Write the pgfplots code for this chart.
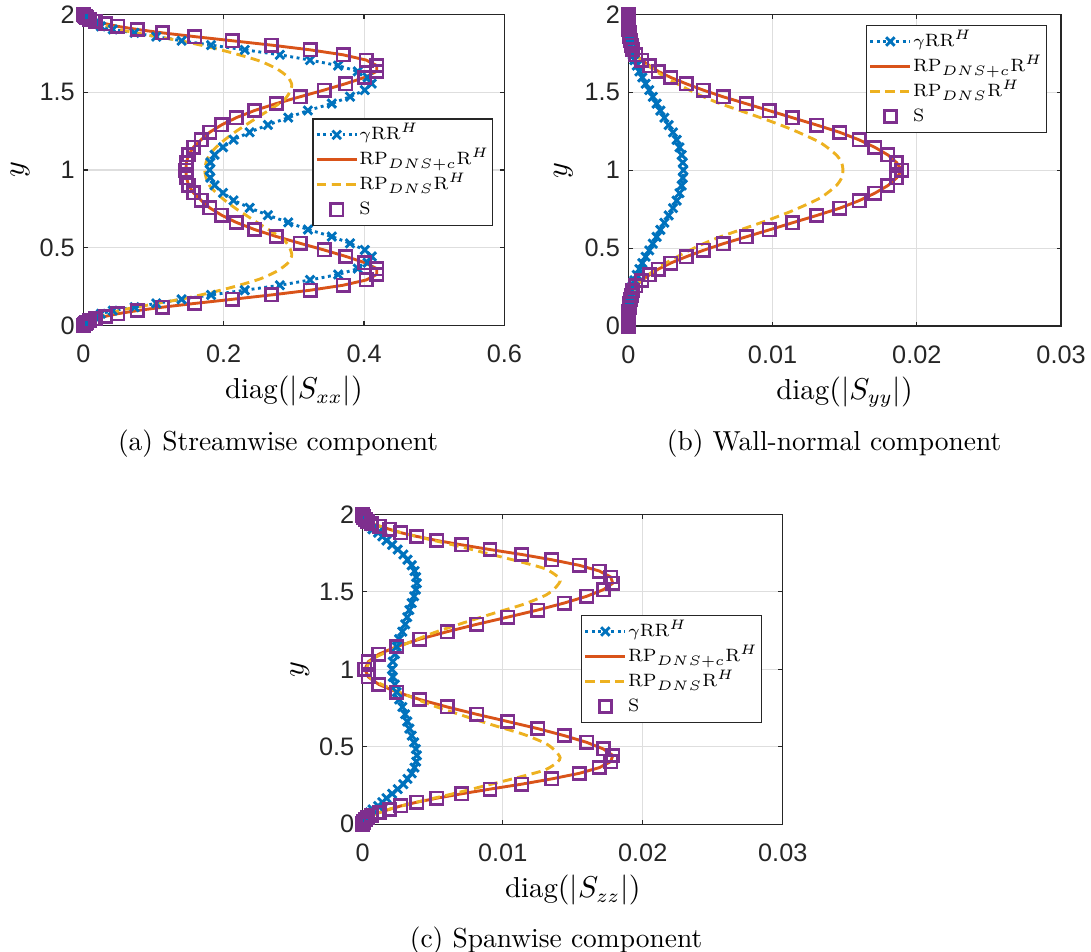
\documentclass[border=0pt]{standalone}
\usepackage{fontspec}
\usepackage{pgfplots}
\usepackage{pgfplotstable}
\pgfplotsset{compat=1.18}
\newfontfamily\ticksf{Liberation Sans}
\definecolor{mblue}{rgb}{0,0.447,0.741}
\definecolor{mred}{rgb}{0.85,0.325,0.098}
\definecolor{myellow}{rgb}{0.929,0.694,0.125}
\definecolor{mpurple}{rgb}{0.494,0.184,0.556}
\definecolor{axgray}{rgb}{0.15,0.15,0.15}

\pgfplotstableread{
y S B
0.0000 0 0
0.0012 0.0002 0.0001
0.0048 0.0010 0.0005
0.0108 0.0025 0.0015
0.0192 0.0050 0.0030
0.0300 0.0090 0.0060
0.0431 0.0170 0.0100
0.0585 0.0310 0.0160
0.0761 0.0490 0.0250
0.0960 0.0770 0.0420
0.1181 0.1130 0.0730
0.1423 0.1590 0.1040
0.1685 0.2120 0.1400
0.1968 0.2680 0.1820
0.2270 0.3230 0.2300
0.2590 0.3700 0.2800
0.2929 0.4030 0.3230
0.3284 0.4180 0.3630
0.3656 0.4180 0.3910
0.4043 0.4010 0.4050
0.4444 0.3740 0.4110
0.4859 0.3430 0.4010
0.5286 0.3090 0.3800
0.5724 0.2750 0.3540
0.6173 0.2440 0.3200
0.6631 0.2180 0.2920
0.7097 0.1970 0.2630
0.7570 0.1800 0.2370
0.8049 0.1680 0.2140
0.8533 0.1570 0.1990
0.9020 0.1500 0.1870
0.9509 0.1470 0.1810
1.0000 0.1460 0.1800
1.0491 0.1470 0.1810
1.0980 0.1500 0.1870
1.1467 0.1570 0.1990
1.1951 0.1680 0.2140
1.2430 0.1800 0.2370
1.2903 0.1970 0.2630
1.3369 0.2180 0.2920
1.3827 0.2440 0.3200
1.4276 0.2750 0.3540
1.4714 0.3090 0.3800
1.5141 0.3430 0.4010
1.5556 0.3740 0.4110
1.5957 0.4010 0.4050
1.6344 0.4180 0.3910
1.6716 0.4180 0.3630
1.7071 0.4030 0.3230
1.7410 0.3700 0.2800
1.7730 0.3230 0.2300
1.8032 0.2680 0.1820
1.8315 0.2120 0.1400
1.8577 0.1590 0.1040
1.8819 0.1130 0.0730
1.9040 0.0770 0.0420
1.9239 0.0490 0.0250
1.9415 0.0310 0.0160
1.9569 0.0170 0.0100
1.9700 0.0090 0.0060
1.9808 0.0050 0.0030
1.9892 0.0025 0.0015
1.9952 0.0010 0.0005
1.9988 0.0002 0.0001
2.0000 0 0
}\taba

\pgfplotstableread{
y x
0 0
0.03 0.008
0.06 0.025
0.10 0.055
0.13 0.09
0.17 0.14
0.21 0.18
0.25 0.215
0.30 0.252
0.35 0.276
0.40 0.291
0.45 0.297
0.50 0.294
0.55 0.286
0.60 0.270
0.65 0.252
0.70 0.235
0.75 0.218
0.80 0.203
0.85 0.190
0.90 0.180
0.95 0.175
1.00 0.173
1.05 0.175
1.10 0.180
1.15 0.190
1.20 0.203
1.25 0.218
1.30 0.235
1.35 0.252
1.40 0.270
1.45 0.286
1.50 0.294
1.55 0.297
1.60 0.291
1.65 0.276
1.70 0.252
1.75 0.215
1.79 0.18
1.83 0.14
1.87 0.09
1.90 0.055
1.94 0.025
1.97 0.008
2.00 0
}\dasha

\pgfplotstableread{
y S B
0.0000 0 0
0.0012 0 0
0.0048 0.000001 0
0.0108 0.000002 0.000001
0.0192 0.000004 0.000002
0.0300 0.000006 0.000005
0.0431 0.00001 0.00001
0.0585 0.000015 0.00002
0.0761 0.00002 0.00003
0.0960 0.00003 0.00004
0.1181 0.00005 0.00006
0.1423 0.00008 0.00008
0.1685 0.00013 0.00011
0.1968 0.0002 0.00015
0.2270 0.0003 0.00021
0.2590 0.00053 0.0003
0.2929 0.00093 0.00042
0.3284 0.00146 0.00058
0.3656 0.00208 0.00077
0.4043 0.00294 0.00097
0.4444 0.0040 0.0012
0.4859 0.0052 0.00145
0.5286 0.00658 0.0017
0.5724 0.00816 0.00196
0.6173 0.00977 0.00222
0.6631 0.01139 0.0025
0.7097 0.01306 0.0028
0.7570 0.01467 0.0031
0.8049 0.0160 0.00335
0.8533 0.0171 0.00355
0.9020 0.0180 0.0037
0.9509 0.0186 0.00378
1.0000 0.01895 0.00381
1.0491 0.0186 0.00378
1.0980 0.0180 0.0037
1.1467 0.0171 0.00355
1.1951 0.0160 0.00335
1.2430 0.01467 0.0031
1.2903 0.01306 0.0028
1.3369 0.01139 0.0025
1.3827 0.00977 0.00222
1.4276 0.00816 0.00196
1.4714 0.00658 0.0017
1.5141 0.0052 0.00145
1.5556 0.0040 0.0012
1.5957 0.00294 0.00097
1.6344 0.00208 0.00077
1.6716 0.00146 0.00058
1.7071 0.00093 0.00042
1.7410 0.00053 0.0003
1.7730 0.0003 0.00021
1.8032 0.0002 0.00015
1.8315 0.00013 0.00011
1.8577 0.00008 0.00008
1.8819 0.00005 0.00006
1.9040 0.00003 0.00004
1.9239 0.00002 0.00003
1.9415 0.000015 0.00002
1.9569 0.00001 0.00001
1.9700 0.000006 0.000005
1.9808 0.000004 0.000002
1.9892 0.000002 0.000001
1.9952 0.000001 0
1.9988 0 0
2.0000 0 0
}\tabb

\pgfplotstableread{
y x
0 0
0.10 0.00003
0.15 0.00008
0.20 0.0002
0.227 0.0003
0.259 0.00053
0.293 0.0009
0.33 0.0014
0.37 0.0020
0.415 0.0028
0.465 0.0038
0.52 0.0050
0.57 0.0063
0.625 0.0080
0.68 0.0097
0.742 0.01143
0.822 0.0133
0.90 0.0144
0.95 0.01478
1.00 0.01488
1.05 0.01478
1.10 0.0144
1.178 0.0133
1.258 0.01143
1.32 0.0097
1.375 0.0080
1.43 0.0063
1.48 0.0050
1.535 0.0038
1.585 0.0028
1.63 0.0020
1.67 0.0014
1.707 0.0009
1.741 0.00053
1.773 0.0003
1.80 0.0002
1.85 0.00008
1.90 0.00003
2.00 0
}\dashb

\pgfplotstableread{
y S B
0.0000 0 0
0.0012 0.000003 0.000005
0.0048 0.00001 0.00001
0.0108 0.00003 0.00003
0.0192 0.00008 0.00006
0.0300 0.00018 0.00012
0.0431 0.00035 0.00022
0.0585 0.0006 0.00035
0.0761 0.00119 0.0005
0.0960 0.0019 0.0007
0.1181 0.00271 0.0011
0.1423 0.00386 0.0014
0.1685 0.00529 0.0017
0.1968 0.00707 0.0021
0.2270 0.00909 0.0025
0.2590 0.01136 0.0029
0.2929 0.0135 0.0032
0.3284 0.01545 0.0035
0.3656 0.0169 0.0037
0.4043 0.01771 0.00382
0.4444 0.01786 0.00387
0.4859 0.01719 0.0038
0.5286 0.0160 0.00367
0.5724 0.01438 0.0035
0.6173 0.0125 0.00333
0.6631 0.01036 0.00318
0.7097 0.00814 0.00303
0.7570 0.00604 0.00283
0.8049 0.00409 0.0026
0.8533 0.00243 0.00243
0.9020 0.00116 0.0023
0.9509 0.0004 0.00215
1.0000 0.00016 0.00209
1.0491 0.0004 0.00215
1.0980 0.00116 0.0023
1.1467 0.00243 0.00243
1.1951 0.00409 0.0026
1.2430 0.00604 0.00283
1.2903 0.00814 0.00303
1.3369 0.01036 0.00318
1.3827 0.0125 0.00333
1.4276 0.01438 0.0035
1.4714 0.0160 0.00367
1.5141 0.01719 0.0038
1.5556 0.01786 0.00387
1.5957 0.01771 0.00382
1.6344 0.0169 0.0037
1.6716 0.01545 0.0035
1.7071 0.0135 0.0032
1.7410 0.01136 0.0029
1.7730 0.00909 0.0025
1.8032 0.00707 0.0021
1.8315 0.00529 0.0017
1.8577 0.00386 0.0014
1.8819 0.00271 0.0011
1.9040 0.0019 0.0007
1.9239 0.00119 0.0005
1.9415 0.0006 0.00035
1.9569 0.00035 0.00022
1.9700 0.00018 0.00012
1.9808 0.00008 0.00006
1.9892 0.00003 0.00003
1.9952 0.00001 0.00001
1.9988 0.000003 0.000005
2.0000 0 0
}\tabc

\pgfplotstableread{
y x
0 0
0.05 0.0005
0.10 0.0020
0.15 0.0042
0.20 0.0066
0.25 0.0088
0.30 0.0110
0.35 0.0130
0.40 0.0139
0.43 0.0141
0.47 0.0138
0.52 0.0131
0.58 0.0115
0.64 0.0093
0.70 0.0072
0.76 0.0052
0.82 0.0035
0.88 0.0019
0.94 0.0006
1.00 0.0003
1.06 0.0006
1.12 0.0019
1.18 0.0035
1.24 0.0052
1.30 0.0072
1.36 0.0093
1.42 0.0115
1.48 0.0131
1.53 0.0138
1.57 0.0141
1.60 0.0139
1.65 0.0130
1.70 0.0110
1.75 0.0088
1.80 0.0066
1.85 0.0042
1.90 0.0020
1.95 0.0005
2.00 0
}\dashc

\pgfplotsset{
  mystyle/.style={
    scale only axis, xmin=0, ymin=0, ymax=2,
    scaled x ticks=false, scaled y ticks=false,
    axis line style={axgray, line width=0.45pt},
    every tick/.style={axgray, line width=0.45pt},
    tick align=inside, major tick length=1.6pt,
    grid=major, major grid style={line width=0.4pt, draw=black!13},
    ytick={0,0.5,1,1.5,2}, yticklabels={0,0.5,1,1.5,2},
    ticklabel style={font=\ticksf\fontsize{9.2}{10}\selectfont, text=axgray},
    xticklabel style={anchor=north, inner sep=0pt, yshift=-7pt},
    yticklabel style={anchor=east, inner sep=0pt, xshift=-2.9pt},
    xlabel style={at={(axis description cs:0.5,0)}, anchor=center, yshift=-24pt, font=\fontsize{10.5}{12}\selectfont},
    ylabel style={at={(axis description cs:-0.15,0.5)}, anchor=center, font=\fontsize{10.5}{12}\selectfont},
    legend cell align=left,
    legend style={font=\fontsize{6.5}{7.8}\selectfont, draw=axgray, line width=0.45pt, fill=white,
      inner xsep=0.8pt, inner ysep=1.2pt, row sep=0pt,
      nodes={inner xsep=0.4pt, inner ysep=0.8pt, text height=5.6pt, text depth=1.9pt}},
    legend image code/.code={\draw[mark repeat=2,mark phase=2] plot coordinates {(0pt,0pt) (7.3pt,0pt) (14.6pt,0pt)};},
  },
  bstyle/.style={mblue, line width=1.05pt, dash pattern=on 1.05pt off 1.3pt, mark=x, mark size=2.2pt, mark options={solid, line width=1.05pt}},
  rstyle/.style={mred, line width=1.05pt},
  ystyle/.style={myellow, line width=1.05pt, dash pattern=on 3.4pt off 2pt, smooth, tension=0.4},
  sstyle/.style={only marks, mark=square, mark size=2.25pt, mark options={mpurple, line width=0.95pt}},
}

\begin{document}
\begin{tikzpicture}
\useasboundingbox (0,0) rectangle (397.1pt,-346.5pt);

\begin{axis}[mystyle, at={(30.32pt,-118.48pt)}, anchor=south west,
  width=153.3pt, height=113.2pt, xmax=0.6,
  xtick={0,0.2,0.4,0.6}, xticklabels={0,0.2,0.4,0.6},
  xlabel={$\mathrm{diag}(|S_{xx}|)$}, ylabel={$y$},
  legend style={at={(rel axis cs:0.973,0.666)}, anchor=north east}]
\addplot[bstyle] table[x=B,y=y] {\taba};
\addplot[rstyle] table[x=S,y=y] {\taba};
\addplot[ystyle] table[x=x,y=y] {\dasha};
\addplot[sstyle] table[x=S,y=y] {\taba};
\legend{$\gamma\mathrm{RR}^H$, $\mathrm{RP}_{DNS+c}\mathrm{R}^H$, $\mathrm{RP}_{DNS}\mathrm{R}^H$, S}
\end{axis}

\begin{axis}[mystyle, at={(228.70pt,-118.66pt)}, anchor=south west,
  width=157.5pt, height=113.4pt, xmax=0.03,
  xtick={0,0.01,0.02,0.03}, xticklabels={0,0.01,0.02,0.03},
  xlabel={$\mathrm{diag}(|S_{yy}|)$}, ylabel={$y$},
  legend style={at={(rel axis cs:0.967,0.966)}, anchor=north east}]
\addplot[bstyle] table[x=B,y=y] {\tabb};
\addplot[rstyle] table[x=S,y=y] {\tabb};
\addplot[ystyle] table[x=x,y=y] {\dashb};
\addplot[sstyle] table[x=S,y=y] {\tabb};
\legend{$\gamma\mathrm{RR}^H$, $\mathrm{RP}_{DNS+c}\mathrm{R}^H$, $\mathrm{RP}_{DNS}\mathrm{R}^H$, S}
\end{axis}

\begin{axis}[mystyle, at={(132.02pt,-300.01pt)}, anchor=south west,
  width=152.9pt, height=112.8pt, xmax=0.03,
  xtick={0,0.01,0.02,0.03}, xticklabels={0,0.01,0.02,0.03},
  xlabel={$\mathrm{diag}(|S_{zz}|)$}, ylabel={$y$},
  legend style={at={(rel axis cs:0.95,0.675)}, anchor=north east}]
\addplot[bstyle] table[x=B,y=y] {\tabc};
\addplot[rstyle] table[x=S,y=y] {\tabc};
\addplot[ystyle] table[x=x,y=y] {\dashc};
\addplot[sstyle] table[x=S,y=y] {\tabc};
\legend{$\gamma\mathrm{RR}^H$, $\mathrm{RP}_{DNS+c}\mathrm{R}^H$, $\mathrm{RP}_{DNS}\mathrm{R}^H$, S}
\end{axis}

\node[font=\fontsize{10}{12}\selectfont] at (101.2pt,-161.6pt) {(a) Streamwise component};
\node[font=\fontsize{10}{12}\selectfont] at (303.6pt,-161.6pt) {(b) Wall-normal component};
\node[font=\fontsize{10}{12}\selectfont] at (202.4pt,-342.2pt) {(c) Spanwise component};
\end{tikzpicture}
\end{document}
